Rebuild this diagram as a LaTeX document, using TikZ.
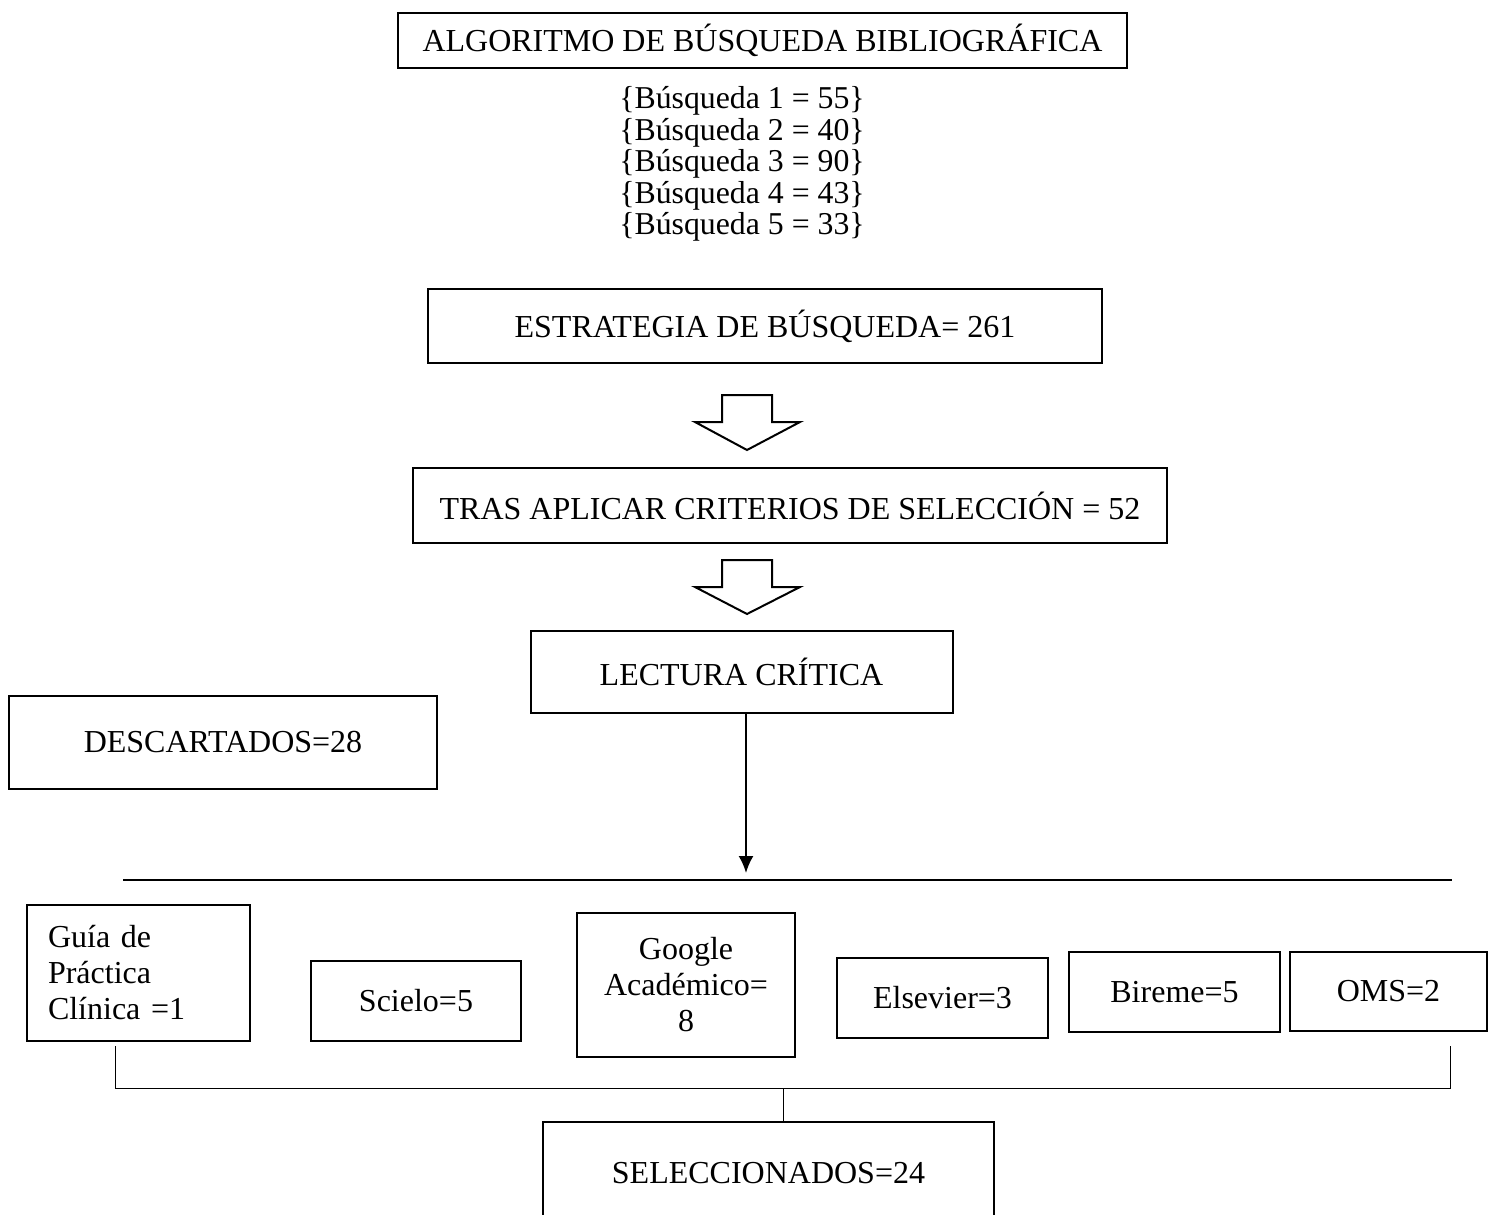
\documentclass[tikz,border=0pt]{standalone}
\usepackage{fontspec}
\setmainfont{Liberation Serif}
\usetikzlibrary{arrows.meta}
\begin{document}
\begin{tikzpicture}[x=1pt,y=-1pt,
  every node/.style={font=\fontsize{32}{32}\selectfont},
  box/.style={draw=black, line width=2pt, rectangle, inner sep=0pt, align=center},
  thinline/.style={draw=black, line width=1pt},
  blockarrow/.style={draw=black, line width=2pt, fill=white, line join=miter},
  lead/.style={draw=black, line width=2pt, -{Latex[length=17pt,width=15pt]}}
]
\useasboundingbox (0,0) rectangle (1494,1215);

\node[box, minimum width=729pt, minimum height=55pt] (title) at (762.5,40.5) {ALGORITMO DE BÚSQUEDA BIBLIOGRÁFICA};

\node[align=center, inner sep=0pt, font=\fontsize{31.8}{31.5}\selectfont] (busq) at (742,164)
  {\{Búsqueda 1 = 55\}\\\{Búsqueda 2 = 40\}\\\{Búsqueda 3 = 90\}\\\{Búsqueda 4 = 43\}\\\{Búsqueda 5 = 33\}};

\node[box, minimum width=674pt, minimum height=74pt] (estr) at (765,326) {ESTRATEGIA DE BÚSQUEDA= 261};

\draw[blockarrow] (722,395) -- (772,395) -- (772,422) -- (800,422) -- (747,450) -- (695,422) -- (722,422) -- cycle;

\node[box, minimum width=754pt, minimum height=75pt] (tras) at (790,505.5) {TRAS APLICAR CRITERIOS DE SELECCIÓN = 52};

\draw[blockarrow] (722,560) -- (772,560) -- (772,587) -- (800,587) -- (747,614) -- (695,587) -- (722,587) -- cycle;

\node[box, minimum width=422pt, minimum height=82pt] (lect) at (741.5,672) {LECTURA CRÍTICA};

\node[box, minimum width=428pt, minimum height=93pt] (desc) at (223,742) {DESCARTADOS=28};

\coordinate (arrEnd) at (746,873);
\draw[lead] (arrEnd |- lect.south) -- (arrEnd);

\coordinate (hl) at (123,880);
\coordinate (hr) at (1452,880);
\draw[draw=black, line width=1.3pt] (hl) -- (hr);

\node[box, minimum width=223pt, minimum height=136pt, text width=181pt, align=left,
      font=\fontsize{32}{36}\selectfont] (guia) at (138.5,973) {Guía de\\Práctica\\Clínica =1};
\node[box, minimum width=210pt, minimum height=80pt] (scielo) at (416,1001) {Scielo=5};
\node[box, minimum width=218pt, minimum height=144pt, font=\fontsize{32}{36}\selectfont] (google) at (686,985) {Google\\Académico=\\8};
\node[box, minimum width=211pt, minimum height=80pt] (elsev) at (942.5,998) {Elsevier=3};
\node[box, minimum width=211pt, minimum height=80pt] (bireme) at (1174.5,992) {Bireme=5};
\node[box, minimum width=197pt, minimum height=79pt] (oms) at (1388.5,991.5) {OMS=2};

\node[box, minimum width=451pt, minimum height=102pt] (sel) at (768.5,1173) {SELECCIONADOS=24};

\coordinate (bl) at (115,1046);
\coordinate (br) at (1450,1046);
\coordinate (bm) at (783,1088);
\draw[thinline] (bl) |- (bm) -| (br);
\draw[thinline] (bm) -- (bm |- sel.north);
\end{tikzpicture}
\end{document}
